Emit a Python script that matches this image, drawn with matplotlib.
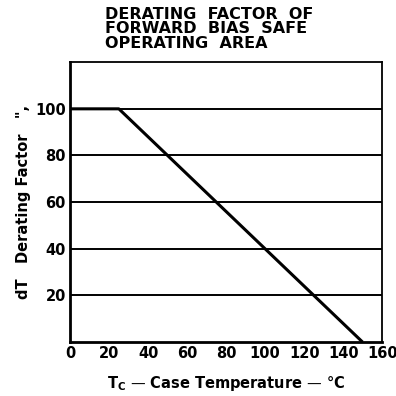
import matplotlib
matplotlib.use('Agg')
import matplotlib.pyplot as plt

# derating curve
temp = [0, 25, 150]
factor = [100, 100, 0]
xticks = [0, 20, 40, 60, 80, 100, 120, 140, 160]
yticks = [20, 40, 60, 80, 100]

fig = plt.figure(figsize=(3.96, 3.96), dpi=100)
ax = fig.add_axes([0.177, 0.136, 0.788, 0.707])

ax.plot(temp, factor, color='black', lw=2.2, solid_capstyle='butt')
for y in yticks:
    ax.axhline(y, color='black', lw=1.4)

ax.set_xlim(0, 160)
ax.set_ylim(0, 120)
ax.set_xticks(xticks)
ax.set_yticks(yticks)
ax.tick_params(length=0, labelsize=10.5, pad=3)
for lab in ax.get_xticklabels() + ax.get_yticklabels():
    lab.set_fontweight('bold')

for s in ['left', 'bottom']:
    ax.spines[s].set_linewidth(2)
for s in ['top', 'right']:
    ax.spines[s].set_linewidth(1.3)

ax.set_xlabel(r'T$_\mathregular{C}$ — Case Temperature — °C', fontsize=10.5,
              fontweight='bold', labelpad=9)
ax.set_ylabel('dT   Derating Factor   ",', fontsize=10.5, fontweight='bold', labelpad=3)

title_lines = ['DERATING  FACTOR  OF', 'FORWARD  BIAS  SAFE', 'OPERATING  AREA']
for i, line in enumerate(title_lines):
    fig.text(0.265, 0.982 - i * 0.036, line, ha='left', va='top', fontsize=11.5,
             fontweight='bold')

fig.savefig('out.png', dpi=100, facecolor='white')
